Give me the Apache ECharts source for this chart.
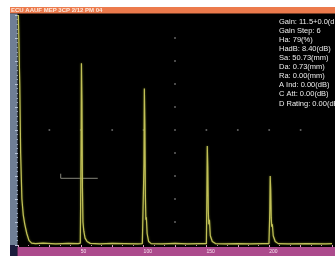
<!DOCTYPE html>
<html>
<head>
<meta charset="utf-8">
<style>
  html, body { margin: 0; padding: 0; background: #fff; }
  #chart { width: 335px; height: 256px; }
</style>
<script src="https://cdn.jsdelivr.net/npm/echarts@6/dist/echarts.min.js"></script>
</head>
<body>
<div id="chart"></div>
<script>
// A-scan trace: sound path (mm) and amplitude (%)
var traceMm = [
  0.3, 0.9, 1.4, 2.1, 3.1, 4.2, 5.4, 7.0, 8.7, 10.8,
  14, 20, 30, 40, 48,
  49.6, 50.2, 50.5, 50.9, 51.3, 51.7, 52.4, 53.4, 55.0, 57.5,
  65, 75, 85, 95, 99,
  99.8, 100.3, 100.6, 101.0, 101.4, 101.8, 102.2, 102.8, 104.0, 106.0,
  115, 125, 135, 145, 150,
  150.1, 150.4, 150.7, 151.1, 151.5, 151.9, 152.4, 153.1, 154.7, 157.2,
  165, 175, 185, 195, 199.8,
  200.2, 200.5, 200.8, 201.2, 201.6, 202.0, 202.5, 203.2, 204.8, 207.2,
  215, 230, 245, 250
]
var traceAmp = [
  100, 100, 70, 40, 20, 13, 9, 5, 2, 0.8,
  0.6, 0.8, 0.5, 0.7, 0.6,
  0.8, 40, 79, 62, 25, 10, 6, 3, 1.5, 0.7,
  0.5, 0.7, 0.6, 0.5, 0.6,
  0.8, 35, 68, 52, 22, 11, 12, 5, 1.5, 0.6,
  0.5, 0.7, 0.5, 0.6, 0.6,
  0.8, 22, 43, 34, 15, 9, 11, 4, 1.5, 0.6,
  0.5, 0.6, 0.5, 0.6, 0.6,
  0.8, 15, 30, 24, 12, 8, 9, 4, 1.5, 0.6,
  0.5, 0.6, 0.5, 0.6
]

// gate A
var gateStart = 34
var gateEnd = 63.5
var gateLevel = 29

// graticule dots (centre cross)
var gridColMm = 125
var gridColAmp = [10, 20, 30, 40, 50, 60, 70, 80, 90]
var gridRowAmp = 50
var gridRowMm = [25, 50, 75, 100, 150, 175, 200, 225]

var xLabels = ['50', '100', '150', '200']
var headerText = 'ECU AAUF MEP 3CP 2/12 PM 04'
var infoLines = [
  'Gain: 11.5+0.0(dB)',
  'Gain Step: 6',
  'Ha: 79(%)',
  'HadB: 8.40(dB)',
  'Sa: 50.73(mm)',
  'Da: 0.73(mm)',
  'Ra: 0.00(mm)',
  'A Ind: 0.00(dB)',
  'C Att: 0.00(dB)',
  'D Rating: 0.00(dB)'
]

var trace = []
for (var i = 0; i < traceMm.length; i++) {
  trace.push([traceMm[i], traceAmp[i]])
}
var dots = []
for (var j = 0; j < gridColAmp.length; j++) {
  dots.push([gridColMm, gridColAmp[j]])
}
for (var k = 0; k < gridRowMm.length; k++) {
  dots.push([gridRowMm[k], gridRowAmp])
}

var chart = echarts.init(document.getElementById('chart'))
chart.setOption({
  backgroundColor: '#000',
  animation: false,
  grid: {
    left: 18,
    top: 15,
    width: 323,
    height: 230
  },
  xAxis: {
    type: 'value',
    min: 0,
    max: 250,
    interval: 25,
    offset: 3,
    z: 3,
    axisLine: { show: false },
    axisTick: { show: true, length: 2, lineStyle: { color: '#e0a0c8', width: 1 } },
    minorTick: { show: true, splitNumber: 3, length: 1, lineStyle: { color: '#cf8ab8' } },
    splitLine: { show: false },
    axisLabel: {
      margin: 1,
      fontSize: 5,
      color: '#f6e2ee',
      align: 'left',
      fontFamily: 'Liberation Sans',
      formatter: function (v) {
        return xLabels.indexOf(String(v)) >= 0 ? String(v) : ''
      }
    }
  },
  yAxis: {
    type: 'value',
    min: 0,
    max: 100,
    interval: 10,
    offset: 3,
    z: 3,
    axisLine: { show: false },
    axisTick: { show: true, length: 3, lineStyle: { color: '#b8c4d8' } },
    minorTick: { show: true, splitNumber: 5, length: 1.5, lineStyle: { color: '#9eabc0' } },
    splitLine: { show: false },
    axisLabel: { show: false }
  },
  graphic: [
    { type: 'rect', z: 0, shape: { x: 0, y: 0, width: 335, height: 7 }, style: { fill: '#fff' } },
    { type: 'rect', z: 0, shape: { x: 0, y: 0, width: 10, height: 256 }, style: { fill: '#fff' } },
    { type: 'rect', z: 0, shape: { x: 10, y: 7, width: 325, height: 6.5 }, style: { fill: '#ec7a4c' } },
    { type: 'rect', z: 0, shape: { x: 10, y: 13.5, width: 7.5, height: 231.5 }, style: { fill: '#6f7e95' } },
    { type: 'rect', z: 0, shape: { x: 10, y: 245, width: 7.5, height: 11 }, style: { fill: '#1b1c3c' } },
    { type: 'rect', z: 0, shape: { x: 17.5, y: 247, width: 318, height: 9 }, style: { fill: '#ac4a8c' } },
    {
      type: 'text', z: 10, x: 11, y: 7.2,
      style: { text: headerText, fill: '#fde8dc', font: 'bold 6px "Liberation Sans"' }
    },
    {
      type: 'text', z: 10, x: 279, y: 17.5,
      style: {
        text: infoLines.join('\n'),
        fill: '#ececec',
        font: '7.5px "Liberation Sans"',
        lineHeight: 9.05
      }
    }
  ],
  series: [
    {
      type: 'scatter',
      data: dots,
      symbolSize: 2,
      itemStyle: { color: '#7a7a7a' },
      z: 4,
      silent: true
    },
    {
      type: 'line',
      data: [[gateStart, gateLevel + 2], [gateStart, gateLevel], [gateEnd, gateLevel]],
      symbol: 'none',
      lineStyle: { color: '#85857a', width: 1 },
      z: 4,
      silent: true
    },
    {
      type: 'line',
      data: trace,
      symbol: 'none',
      clip: true,
      lineStyle: { color: '#c2c058', width: 1.2, shadowColor: '#6f7a20', shadowBlur: 2 },
      z: 5,
      silent: true
    }
  ]
})
</script>
</body>
</html>
